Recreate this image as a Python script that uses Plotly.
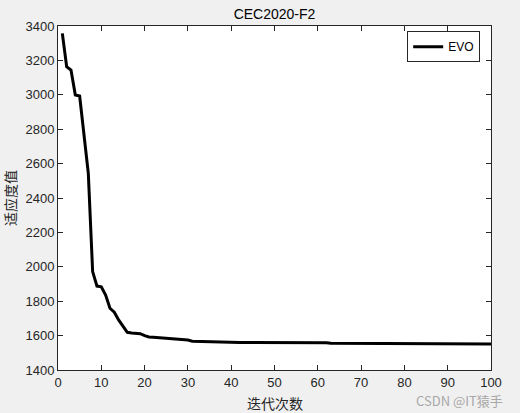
import plotly.graph_objects as go

# 迭代次数 / 适应度值
iters = list(range(1, 101))
fitness_head = [3357, 3164, 3144, 2999, 2993, 2770, 2543, 1972, 1888, 1884,
                1836, 1759, 1736, 1691, 1656, 1619, 1615, 1613, 1611, 1600,
                1592, 1590, 1588, 1585, 1584, 1583, 1582, 1581, 1577, 1574,
                1567, 1566, 1565, 1564, 1563, 1563, 1562, 1562, 1561, 1561]
fitness_mid = [1560] * 10 + [1559] * 12
fitness_tail = [1555] * 10 + [1553] * 10 + [1552] * 10 + [1551] * 8
fitness = fitness_head + fitness_mid + fitness_tail

x_ticks = list(range(0, 101, 10))
y_ticks = list(range(1400, 3401, 200))

fig = go.Figure()
fig.add_trace(go.Scatter(
    x=iters, y=fitness, mode='lines', name='EVO',
    line=dict(color='black', width=3)
))

axis_common = dict(
    showgrid=False, zeroline=False, showline=True, linecolor='#262626',
    linewidth=1, mirror='ticks', ticks='inside', ticklen=5,
    tickcolor='#262626', tickfont=dict(size=13, color='#262626'),
    automargin=False
)

cjk = 'Noto Sans CJK SC'

fig.update_layout(
    width=520, height=413,
    paper_bgcolor='#f0f0f0', plot_bgcolor='white',
    margin=dict(l=58, r=29, t=26, b=43),
    font=dict(family='Liberation Sans, Arial', color='#262626'),
    title=dict(text='CEC2020-F2', x=0.5, xref='paper', xanchor='center',
               y=0.966, yref='container', yanchor='middle',
               font=dict(size=14, color='black')),
    xaxis=dict(range=[0, 100], tickvals=x_ticks, **axis_common),
    yaxis=dict(range=[1400, 3400], tickvals=y_ticks, **axis_common),
    legend=dict(x=0.975, y=0.985, xanchor='right', yanchor='top',
                bgcolor='white', bordercolor='#262626', borderwidth=1,
                font=dict(size=12, color='black')),
    showlegend=True,
    annotations=[
        dict(text='迭代次数', xref='paper', yref='paper', x=0.5, y=-0.096,
             xanchor='center', yanchor='middle', showarrow=False,
             font=dict(family=cjk, size=14, color='#262626')),
        dict(text='适应度值', xref='paper', yref='paper', x=-0.111, y=0.5,
             xanchor='center', yanchor='middle', textangle=-90, showarrow=False,
             font=dict(family=cjk, size=14, color='#262626')),
        dict(text='CSDN @IT猿手', xref='paper', yref='paper', x=1.032, y=-0.088,
             xanchor='right', yanchor='middle', showarrow=False,
             font=dict(family=cjk, size=13, color='#a8a8a8')),
    ]
)

fig.write_html("out.html", config={'displayModeBar': False},
               post_script="document.body.style.margin='0';")
